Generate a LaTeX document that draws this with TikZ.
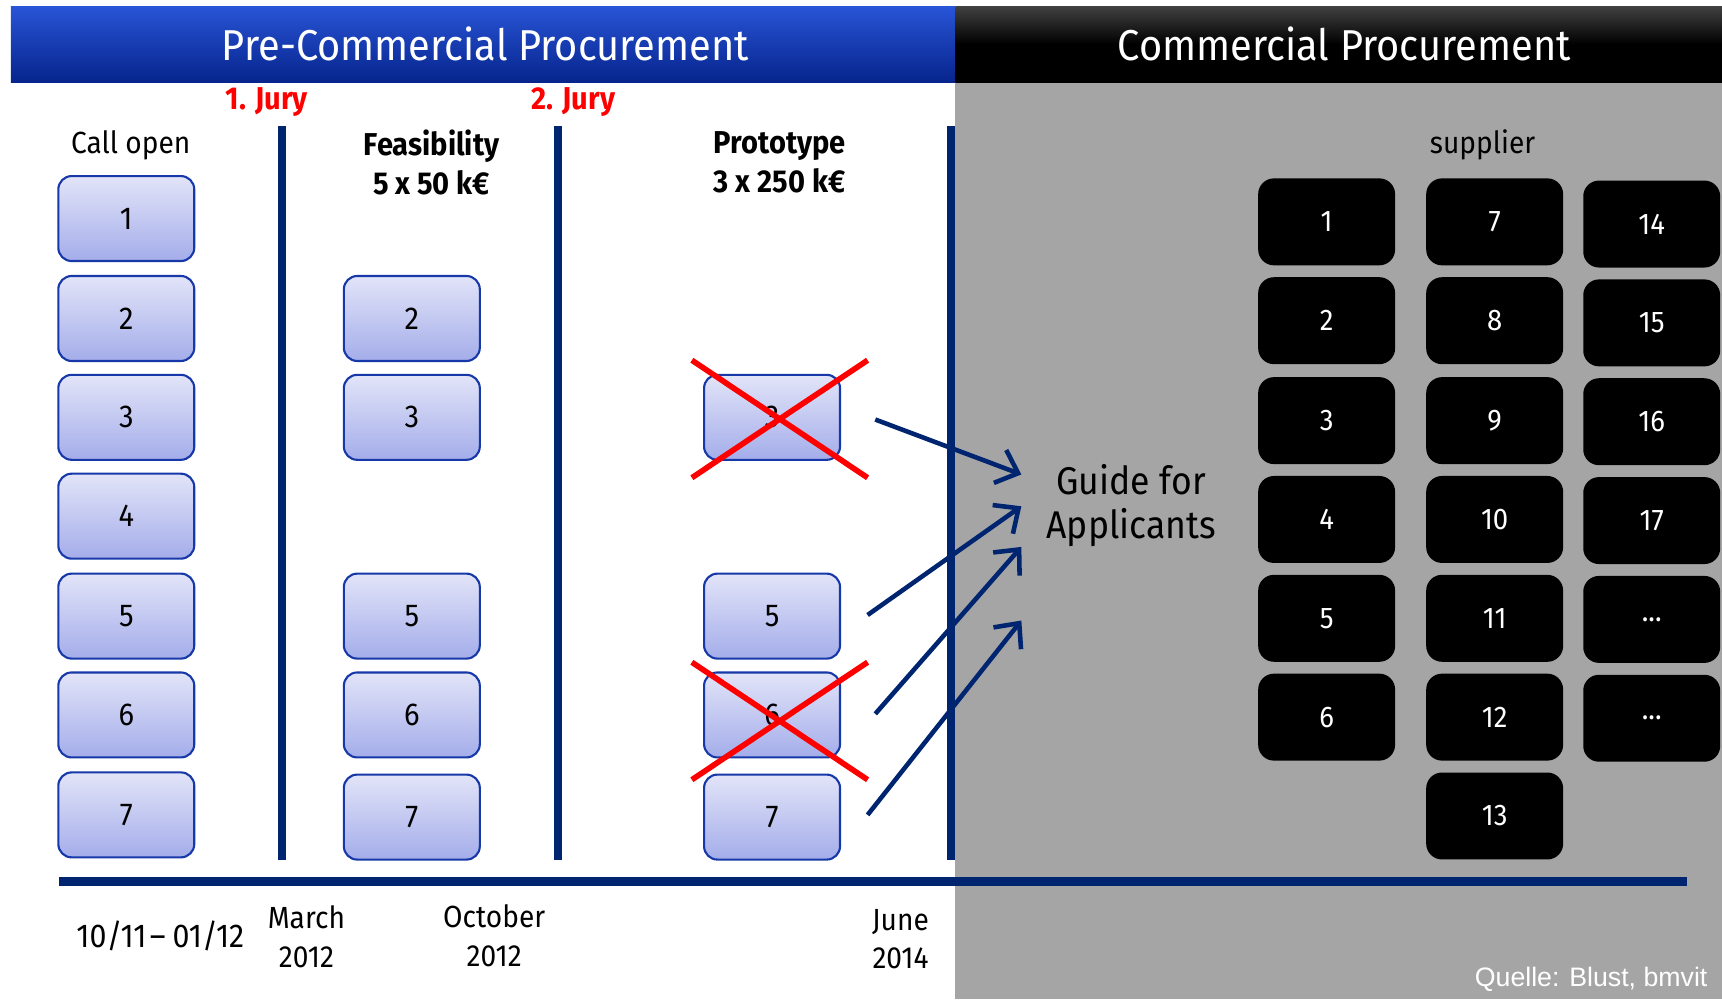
\documentclass[tikz,border=0pt]{standalone}
\usepackage{fontspec}
\setmainfont{Fira Sans}[FakeStretch=0.92]
\newfontfamily\quellefont{Liberation Sans}
\usetikzlibrary{arrows.meta,calc}

\definecolor{navyline}{RGB}{0,37,112}
\definecolor{boxline}{RGB}{22,56,168}
\definecolor{boxtop}{RGB}{226,228,248}
\definecolor{boxbot}{RGB}{164,173,234}
\definecolor{panelgray}{RGB}{165,165,165}
\definecolor{hdtop}{RGB}{40,84,214}
\definecolor{hdbot}{RGB}{6,36,140}
\newcommand{\moredots}{...}

\begin{document}
\begin{tikzpicture}[x=0.010982cm, y=-0.010982cm,
        bluebox/.style={rectangle, draw=boxline, semithick, top color=boxtop, bottom color=boxbot, rounded corners=3.8pt, minimum width=1.36cm, minimum height=0.85cm, font=\fontsize{9}{10}\selectfont},
        blackbox/.style={rectangle, fill=black, rounded corners=4.5pt, minimum width=1.37cm, minimum height=0.87cm, text=white, font=\fontsize{8.5}{10}\selectfont},
        title/.style={text=white, font=\fontsize{12.3}{14}\selectfont},
        head/.style={align=center, font=\fontsize{8.7}{11}\selectfont},
        boldhead/.style={align=center, font=\bfseries\fontsize{9}{11}\selectfont},
        jury/.style={text=red, font=\bfseries\fontsize{9}{10}\selectfont},
        divider/.style={draw=navyline, line width=2.2pt},
        arr/.style={draw=navyline, line width=1.3pt, -{Straight Barb[length=5.5pt,width=10pt]}},
        xcross/.style={draw=red, line width=1.6pt}
    ]
    \useasboundingbox (0,0) rectangle (1568,909.7);

    % panels and headers
    \fill[panelgray] (870,75) rectangle (1568,909.7);
    \shade[top color=hdtop, bottom color=hdbot] (10,6) rectangle (870,75);
    \shade[top color=black!75, bottom color=black, middle color=black] (870,6) rectangle (1568,75);
    \node[title] (pcp) at (442,40) {Pre-Commercial Procurement};
    \node[title] (cp) at (1224,40) {Commercial Procurement};

    % jury marks and phase dividers
    \node[jury] (jury1) at (243,93) {1. Jury};
    \node[jury] (jury2) at (522,93) {2. Jury};
    \draw[divider] (257,115) -- (257,783);
    \draw[divider] (508,115) -- (508,783);
    \draw[divider] (866,115) -- (866,783);
    \draw[navyline, line width=2.6pt] (54,803) -- (1536,803);

    % column heads
    \node[head] (callopen) at (119,132) {Call open};
    \node[boldhead] (feas) at (393,148) {Feasibility\\5 x 50 k€};
    \node[boldhead] (proto) at (710,148) {Prototype\\3 x 250 k€};
    \node[head] (supplier) at (1350,132) {supplier};

    % applicants
    \foreach \n/\y in {1/199,2/290,3/380,4/470,5/561,6/651,7/742}
        \node[bluebox] (c\n) at (115,\y) {\n};
    \foreach \n/\y in {2/290,3/380,5/561,6/651,7/744}
        \node[bluebox] (f\n) at (375,\y) {\n};
    \foreach \n/\y in {3/380,5/561,6/651,7/744}
        \node[bluebox] (p\n) at (703,\y) {\n};

    % dropped prototypes
    \draw[xcross] ($(p3)+(-73,-52)$) -- ($(p3)+(87,55)$) ($(p3)+(-73,55)$) -- ($(p3)+(87,-52)$);
    \draw[xcross] ($(p6)+(-73,-48)$) -- ($(p6)+(87,59)$) ($(p6)+(-73,59)$) -- ($(p6)+(87,-48)$);

    % guide
    \node[align=center, font=\fontsize{11}{12.5}\selectfont] (guide) at (1030,460) {Guide for\\Applicants};
    \coordinate (a3) at (797,382);
    \coordinate (a5) at (790,560);
    \coordinate (a6) at (797,650);
    \coordinate (a7) at (790,742);
    \coordinate (g1) at (930,432);
    \coordinate (g2) at (930,461);
    \coordinate (g3) at (930,498);
    \coordinate (g4) at (930,565);
    \draw[arr] (a3) -- (g1);
    \draw[arr] (a5) -- (g2);
    \draw[arr] (a6) -- (g3);
    \draw[arr] (a7) -- (g4);

    % suppliers
    \foreach \n/\y in {1/202,2/292,3/383,4/473,5/563,6/653}
        \node[blackbox] (s\n) at (1208,\y) {\n};
    \foreach \n/\y in {7/202,8/292,9/383,10/473,11/563,12/653,13/743}
        \node[blackbox] (s\n) at (1361,\y) {\n};
    \foreach \n/\t/\y in {14/14/204,15/15/294,16/16/384,17/17/474,18/\moredots/564,19/\moredots/654}
        \node[blackbox] (s\n) at (1504,\y) {\t};

    % time line
    \node[head, font=\fontsize{9.4}{11}\selectfont] (d1) at (146,852) {10/11\hspace{1pt}–\hspace{2pt}01/12};
    \node[head] (d2) at (279,853) {March\\2012};
    \node[head] (d3) at (450,852) {October\\2012};
    \node[head] (d4) at (820,855) {June\\2014};

    \node[anchor=east, text=white, font=\quellefont\fontsize{7.6}{9}\selectfont] (src) at (1566,892) {Quelle: Blust, bmvit};
\end{tikzpicture}
\end{document}
